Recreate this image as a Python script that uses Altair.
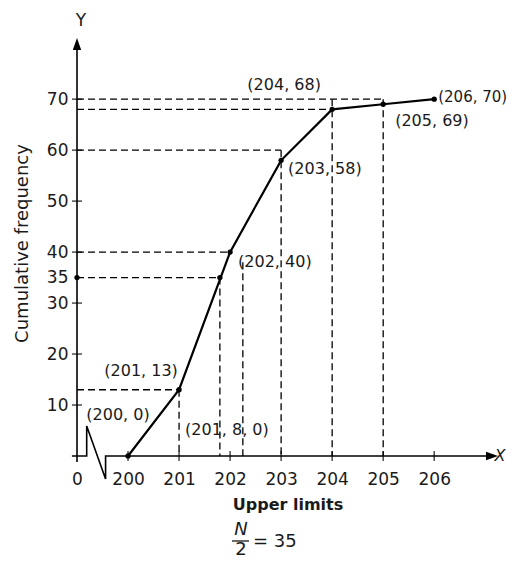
import altair as alt
import pandas as pd

# ---------------- data ----------------
upper_limits = [200, 201, 202, 203, 204, 205, 206]
cum_freq = [0, 13, 40, 58, 68, 69, 70]
point_labels = ["(200, 0)", "(201, 13)", "(202, 40)", "(203, 58)",
                "(204, 68)", "(205, 69)", "(206, 70)"]

x_tick_labels = ["0", "200", "201", "202", "203", "204", "205", "206"]
y_tick_values = [10, 20, 30, 40, 50, 60, 70]
y_label_values = [10, 20, 30, 35, 40, 50, 60, 70]

half_n = 35            # N/2
median_x = 201.8
median_label = "(201, 8, 0)"

# dashed guide lines
h_guide_y = [13, 35, 40, 60, 68, 70]
h_guide_x = [201, 201.8, 202, 203, 204, 205]
v_guide_x = [201, 201.8, 202.25, 203, 204, 205]
v_guide_y = [13, 35, 38, 60, 70, 70]

# broken x-axis (zig-zag), in axis units
break_u = [-0.1, 0.19, 0.19, 0.56, 0.56, 8.1]
break_y = [0, 0, 5.9, -4.5, 0, 0]


def pos(v):
    """map an upper limit onto the broken axis position"""
    return 0 if v == 0 else v - 199


FONT = "DejaVu Sans"
XD = [0, 8.25]
YD = [0, 82]
W, H = 421, 418

xs = alt.Scale(domain=XD, nice=False, zero=False)
ys = alt.Scale(domain=YD, nice=False, zero=False)

label_arr = "[" + ",".join("'%s'" % s for s in x_tick_labels) + "]"

x_axis = alt.Axis(
    values=list(range(len(x_tick_labels))), labelExpr=label_arr + "[datum.value]",
    domain=False, ticks=False, tickSize=0, grid=False, labelPadding=15,
    labelFont=FONT, labelFontSize=17, labelColor="#1a1a1a", labelFlush=False,
    title="Upper limits", titleFont=FONT, titleFontSize=16, titleFontWeight="bold",
    titleColor="#1a1a1a", titleY=40, titleBaseline="top")
y_axis = alt.Axis(
    values=y_label_values, domain=False, ticks=False, tickSize=0, grid=False,
    labelPadding=9, labelFont=FONT, labelFontSize=17, labelColor="#1a1a1a",
    labelFlush=False, labelOverlap=False,
    title="Cumulative frequency", titleFont=FONT, titleFontSize=18,
    titleFontWeight="normal", titleColor="#1a1a1a", titleX=-46, titleY=205,
    titleBaseline="bottom")


def X(field="u"):
    return alt.X(field + ":Q", scale=xs, axis=x_axis)


def Y(field="cf"):
    return alt.Y(field + ":Q", scale=ys, axis=y_axis)


pts = pd.DataFrame({"u": [pos(v) for v in upper_limits], "cf": cum_freq,
                    "label": point_labels})

# axes drawn by hand
yaxis_line = alt.Chart(pd.DataFrame({"u": [0, 0], "cf": [-1.2, 81]})).mark_line(
    color="black", strokeWidth=1.6).encode(x=X(), y=Y())
xaxis_line = alt.Chart(pd.DataFrame({"u": break_u, "cf": break_y,
                                     "i": list(range(len(break_u)))})).mark_line(
    color="black", strokeWidth=1.6).encode(x=X(), y=Y(), order="i:O")
arrow_up = alt.Chart(pd.DataFrame({"u": [0], "cf": [YD[1]]})).mark_point(
    shape="M0,0L-0.7,2L0.7,2Z", filled=True, size=144, color="black", opacity=1
).encode(x=X(), y=Y())
arrow_right = alt.Chart(pd.DataFrame({"u": [XD[1]], "cf": [0]})).mark_point(
    shape="M0,0L-2,-0.7L-2,0.7Z", filled=True, size=144, color="black", opacity=1
).encode(x=X(), y=Y())

xticks = alt.Chart(pd.DataFrame({"u": [pos(v) for v in upper_limits],
                                 "cf": [0] * len(upper_limits)})).mark_tick(
    orient="vertical", color="black", size=10, thickness=1.5).encode(x=X(), y=Y())
yticks = alt.Chart(pd.DataFrame({"u": [0] * len(y_tick_values),
                                 "cf": y_tick_values})).mark_tick(
    orient="horizontal", color="black", size=10, thickness=1.5).encode(x=X(), y=Y())

# dashed guides
hg = pd.DataFrame({"u0": [0] * len(h_guide_y), "u": [pos(v) for v in h_guide_x],
                   "cf": h_guide_y})
vg = pd.DataFrame({"u": [pos(v) for v in v_guide_x], "cf": v_guide_y,
                   "c0": [0] * len(v_guide_x)})
h_guides = alt.Chart(hg).mark_rule(color="black", strokeWidth=1.3,
                                   strokeDash=[7, 4]).encode(
    x=X("u0"), x2="u:Q", y=Y())
v_guides = alt.Chart(vg).mark_rule(color="black", strokeWidth=1.3,
                                   strokeDash=[7, 4]).encode(
    x=X(), y=Y(), y2="c0:Q")

# ogive
line = alt.Chart(pts).mark_line(color="black", strokeWidth=2.2).encode(x=X(), y=Y())
dots = alt.Chart(pts).mark_circle(color="black", size=28, opacity=1).encode(x=X(), y=Y())
extra_dots = alt.Chart(pd.DataFrame({"u": [0, pos(median_x)],
                                     "cf": [half_n, half_n]})).mark_circle(
    color="black", size=28, opacity=1).encode(x=X(), y=Y())

# point labels
offsets = [(-10, -41, "center", 16), (-38, -19, "center", 16), (8, 10, "left", 16),
           (7, 9, "left", 16), (-48, -24, "center", 16), (12, 17, "left", 16),
           (4, -2, "left", 15)]
label_layers = []
for i, (dx, dy, al, fs) in enumerate(offsets):
    label_layers.append(
        alt.Chart(pts.iloc[[i]]).mark_text(
            dx=dx, dy=dy, align=al, baseline="middle", font=FONT, fontSize=fs,
            color="#1a1a1a").encode(x=X(), y=Y(), text="label:N"))

med_lab = alt.Chart(pd.DataFrame({"u": [pos(median_x)], "cf": [0],
                                  "label": [median_label]})).mark_text(
    dx=7, dy=-26, align="center", baseline="middle", font=FONT, fontSize=16,
    color="#1a1a1a").encode(x=X(), y=Y(), text="label:N")


# axis letters and N/2 note
def txt(s, x, y, size=17, style="normal", align="center"):
    return alt.Chart(pd.DataFrame({"t": [s]})).mark_text(
        align=align, baseline="middle", font=FONT, fontSize=size, fontStyle=style,
        color="#1a1a1a").encode(x=alt.value(x), y=alt.value(y), text="t:N")


y_letter = txt("Y", 4, -17, 17)
x_letter = txt("X", 423, 418, 16, "italic")
n_txt = txt("N", 164, 492, 18, "italic")
two_txt = txt("2", 164, 512, 18)
eq_txt = txt("= " + str(half_n), 176, 504, 18, align="left")
frac_bar = alt.Chart(pd.DataFrame({"t": [0]})).mark_rule(
    color="#1a1a1a", strokeWidth=1.3).encode(
    x=alt.value(155), x2=alt.value(172), y=alt.value(503))

chart = alt.layer(
    h_guides, v_guides, yaxis_line, xaxis_line, xticks, yticks, arrow_up,
    arrow_right, line, dots, extra_dots, *label_layers, med_lab,
    y_letter, x_letter, n_txt, two_txt, eq_txt, frac_bar
).properties(
    width=W, height=H, autosize="none",
    padding={"left": 69, "top": 30, "right": 9, "bottom": 105}
).configure(background="white").configure_view(stroke=None, strokeWidth=0)

chart.save("out.html", embed_options={"renderer": "svg", "actions": False})
